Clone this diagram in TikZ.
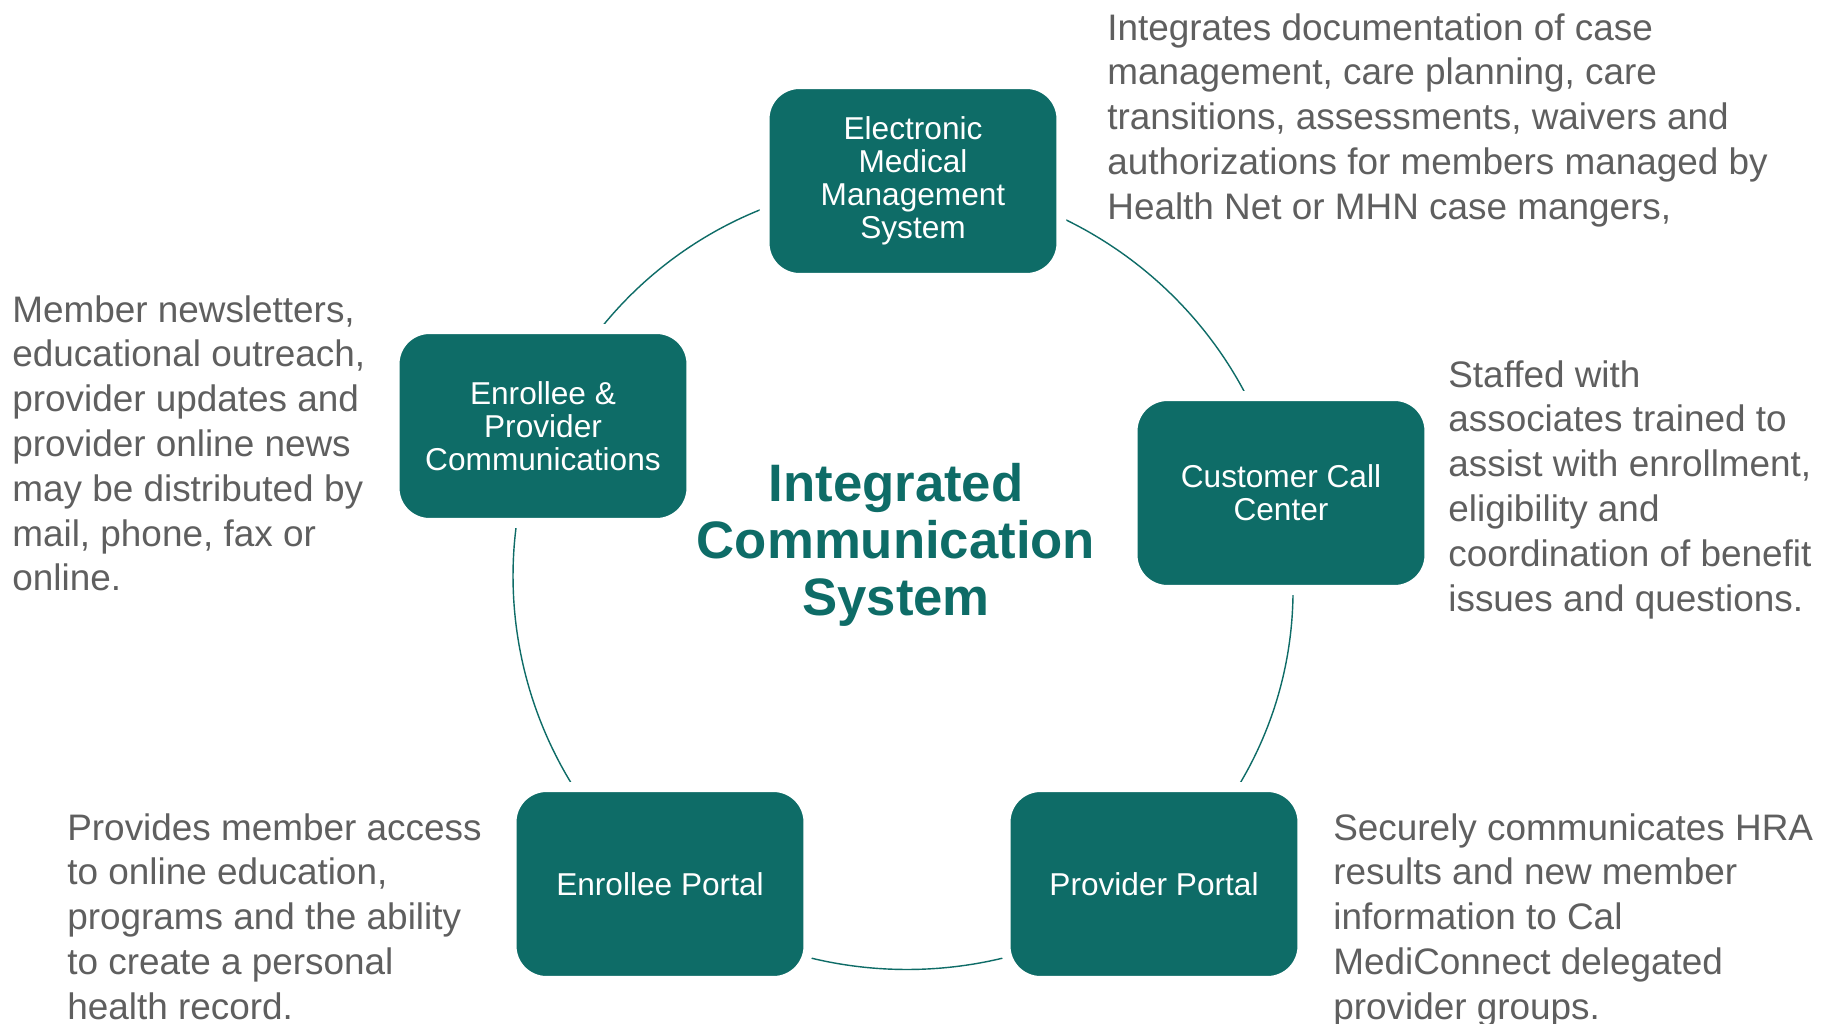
\documentclass[tikz,border=0pt]{standalone}
\usepackage{fontspec}
\setmainfont{Liberation Sans}
\usetikzlibrary{backgrounds}
\definecolor{icsteal}{HTML}{0E6C67}
\definecolor{icsgrey}{HTML}{5F5F5F}
\begin{document}
\begin{tikzpicture}[x=0.02cm,y=0.02cm]
\tikzstyle{every node}+=[inner sep=0pt]
\tikzstyle{hub}=[rectangle,rounded corners=0.7cm,fill=icsteal,draw=white,line width=0.2cm,minimum width=5.94cm,minimum height=3.88cm,text=white,align=center,font=\fontsize{18}{18.9}\selectfont]
\tikzstyle{note}=[anchor=north west,align=left,text=icsgrey,font=\fontsize{21}{25.5}\selectfont]
\tikzstyle{ring}=[draw=icsteal,line width=0.8pt,looseness=0.94]
\useasboundingbox (0,0) rectangle (1822,-1024);
\node[hub] (emms) at (913,-181) {Electronic\\Medical\\Management\\System};
\node[hub] (epc) at (543,-426) {Enrollee \&\\Provider\\Communications};
\node[hub] (ccc) at (1281,-493) {Customer Call\\Center};
\node[hub] (ep) at (660,-884) {Enrollee Portal};
\node[hub] (pp) at (1154,-884) {Provider Portal};
\node[text=icsteal,align=center,font=\bfseries\fontsize{30}{32.6}\selectfont] (title) at (896,-545) {Integrated\\Communication\\System};
\node[note] (emmsnote) at (1107,-13) {Integrates documentation of case\\management, care planning, care\\transitions, assessments, waivers and\\authorizations for members managed by\\Health Net or MHN case mangers,};
\node[note] (epcnote) at (12,-295) {Member newsletters,\\educational outreach,\\provider updates and\\provider online news\\may be distributed by\\mail, phone, fax or\\online.};
\node[note] (cccnote) at (1448,-360) {Staffed with\\associates trained to\\assist with enrollment,\\eligibility and\\coordination of benefit\\issues and questions.};
\node[note] (epnote) at (67,-813) {Provides member access\\to online education,\\programs and the ability\\to create a personal\\health record.};
\node[note] (ppnote) at (1333,-813) {Securely communicates HRA\\results and new member\\information to Cal\\MediConnect delegated\\provider groups.};
\begin{pgfonlayer}{background}
\fill[white] (0,0) rectangle (1822,-1024);
\draw[ring] (emms.center) to[bend right=34] (epc.center) to[bend right=37] (ep.center) to[bend right=39] (pp.center) to[bend right=32] (ccc.center) to[bend right=38] (emms.center);
\end{pgfonlayer}
\end{tikzpicture}
\end{document}
